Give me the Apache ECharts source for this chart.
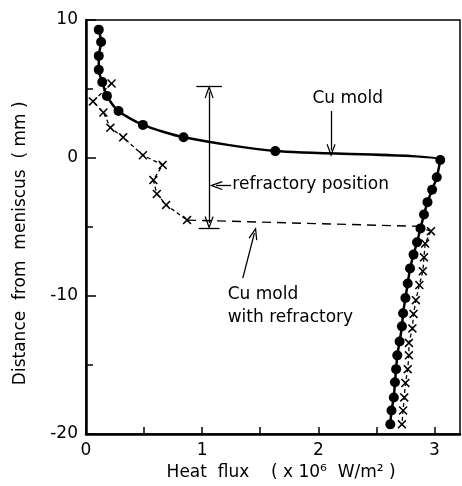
<!DOCTYPE html>
<html>
<head>
<meta charset="utf-8">
<script src="https://cdn.jsdelivr.net/npm/echarts@6/dist/echarts.min.js"></script>
<style>
  html, body { margin: 0; background: #fff; }
  #chart { width: 462px; height: 486px; }
</style>
</head>
<body>
<div id="chart"></div>
<script>
// Cu mold (filled circles)
const cuFlux = [0.11, 0.13, 0.11, 0.11, 0.14, 0.18, 0.28, 0.49, 0.84, 1.63,
  3.05, 3.02, 2.98, 2.94, 2.91, 2.88, 2.85, 2.82, 2.79, 2.77,
  2.75, 2.73, 2.72, 2.70, 2.68, 2.67, 2.66, 2.65, 2.63, 2.62]
const cuDepth = [9.3, 8.4, 7.4, 6.4, 5.5, 4.5, 3.4, 2.4, 1.5, 0.5,
  -0.15, -1.4, -2.3, -3.2, -4.1, -5.1, -6.1, -7.0, -8.0, -9.1,
  -10.15, -11.25, -12.2, -13.3, -14.3, -15.3, -16.25, -17.35, -18.3, -19.3]

// Cu mold with refractory (crosses), upper and lower parts
const refUpperFlux = [0.22, 0.06, 0.15, 0.21, 0.32, 0.49, 0.66, 0.58, 0.61, 0.69, 0.87]
const refUpperDepth = [5.4, 4.1, 3.3, 2.2, 1.5, 0.2, -0.5, -1.6, -2.6, -3.4, -4.5]
const refLowerFlux = [2.97, 2.92, 2.91, 2.90, 2.87, 2.84, 2.82, 2.81, 2.78, 2.78, 2.77, 2.75, 2.74, 2.73, 2.72]
const refLowerDepth = [-5.3, -6.2, -7.2, -8.2, -9.2, -10.3, -11.3, -12.35, -13.4, -14.3, -15.3, -16.3, -17.35, -18.3, -19.3]

// long dashed link between the two parts
const linkFlux = [0.87, 2.85, 2.97]
const linkDepth = [-4.5, -4.95, -5.3]

// refractory position bar (depth, mm)
const refractoryTop = 5.2
const refractoryBottom = -5.1

const xTicks = [0, 1, 2, 3]
const yTicks = [-20, -10, 0, 10]

const zip = (xs, ys) => xs.map((x, i) => [x, ys[i]])

const FONT = 'DejaVu Sans'
const arrowHead = 'path://M5,0L10,12L8.8,12.6L5,3.6L1.2,12.6L0,12Z'
const crossMark = 'path://M0,1.2L1.2,0L5,3.8L8.8,0L10,1.2L6.2,5L10,8.8L8.8,10L5,6.2L1.2,10L0,8.8L3.8,5Z'

const textPoint = (coord, text, extra) => ({
  coord: coord,
  symbol: 'circle',
  symbolSize: 0,
  label: Object.assign({
    show: true,
    position: 'right',
    distance: 0,
    formatter: text,
    color: '#000',
    fontFamily: FONT,
    fontSize: 17
  }, extra || {})
})

const chart = echarts.init(document.getElementById('chart'))

const option = {
  animation: false,
  backgroundColor: '#fff',
  grid: {
    left: 86,
    right: 2,
    top: 20,
    bottom: 50,
    show: true,
    borderColor: '#000',
    borderWidth: 1.5
  },
  xAxis: {
    type: 'value',
    min: 0,
    max: 3.22,
    interval: 0.5,
    name: '   Heat  flux    ( x 10⁶  W/m² )',
    nameLocation: 'middle',
    nameGap: 30,
    nameTextStyle: { color: '#000', fontFamily: FONT, fontSize: 17 },
    axisLine: { onZero: false, lineStyle: { color: '#000', width: 2.5 } },
    axisTick: { inside: true, length: 7, lineStyle: { color: '#000', width: 1.5 } },
    axisLabel: {
      color: '#000',
      fontFamily: FONT,
      fontSize: 17,
      margin: 8,
      showMaxLabel: false,
      formatter: (v) => xTicks.includes(v) ? String(v) : ''
    },
    splitLine: { show: false }
  },
  yAxis: {
    type: 'value',
    min: -20,
    max: 10,
    interval: 10,
    name: 'Distance  from  meniscus  ( mm )      ',
    nameLocation: 'middle',
    nameRotate: 90,
    nameGap: 57,
    nameTextStyle: { color: '#000', fontFamily: FONT, fontSize: 17 },
    axisLine: { onZero: false, lineStyle: { color: '#000', width: 2.5 } },
    axisTick: { inside: true, length: 10, lineStyle: { color: '#000', width: 1.5 } },
    minorTick: { show: true, splitNumber: 2, length: 7, lineStyle: { color: '#000', width: 1.5 } },
    axisLabel: {
      color: '#000',
      fontFamily: FONT,
      fontSize: 17,
      margin: 8,
      formatter: (v) => yTicks.includes(v) ? String(v) : ''
    },
    splitLine: { show: false }
  },
  series: [
    {
      name: 'Cu mold',
      type: 'line',
      data: zip(cuFlux, cuDepth),
      smooth: 0.25,
      symbol: 'circle',
      symbolSize: 10,
      itemStyle: { color: '#000' },
      lineStyle: { color: '#000', width: 2.5 },
      z: 3,
      markLine: {
        silent: true,
        symbol: ['none', 'none'],
        symbolSize: [9, 13],
        label: { show: false },
        lineStyle: { color: '#000', width: 1.3, type: 'solid' },
        data: [
          [{ coord: [2.11, 3.4] }, { coord: [2.11, 0.55], symbol: arrowHead }],
          [{ coord: [1.25, -2.0] }, { coord: [1.12, -2.0], symbol: arrowHead }],
          [{ coord: [1.06, refractoryTop - 0.4], symbol: arrowHead }, { coord: [1.06, refractoryBottom + 0.4], symbol: arrowHead }],
          [{ coord: [0.95, refractoryTop] }, { coord: [1.17, refractoryTop] }],
          [{ coord: [0.97, refractoryBottom] }, { coord: [1.15, refractoryBottom] }],
          [{ coord: [1.35, -8.7] }, { coord: [1.45, -5.45], symbol: arrowHead }]
        ]
      },
      markPoint: {
        silent: true,
        data: [
          textPoint([1.95, 4.3], 'Cu mold'),
          textPoint([1.26, -1.95], 'refractory position'),
          textPoint([1.22, -10.7], 'Cu mold\nwith refractory', { lineHeight: 23 })
        ]
      }
    },
    {
      name: 'Cu mold with refractory',
      type: 'line',
      data: zip(refUpperFlux, refUpperDepth).concat(['-'], zip(refLowerFlux, refLowerDepth)),
      connectNulls: false,
      symbol: crossMark,
      symbolSize: 9,
      itemStyle: { color: '#000' },
      lineStyle: { color: '#000', width: 1.3, type: [4, 3] },
      z: 2
    },
    {
      name: 'link',
      type: 'line',
      data: zip(linkFlux, linkDepth),
      symbol: 'none',
      lineStyle: { color: '#000', width: 1.4, type: [9, 6] },
      z: 1
    }
  ]
}

chart.setOption(option)
</script>
</body>
</html>
